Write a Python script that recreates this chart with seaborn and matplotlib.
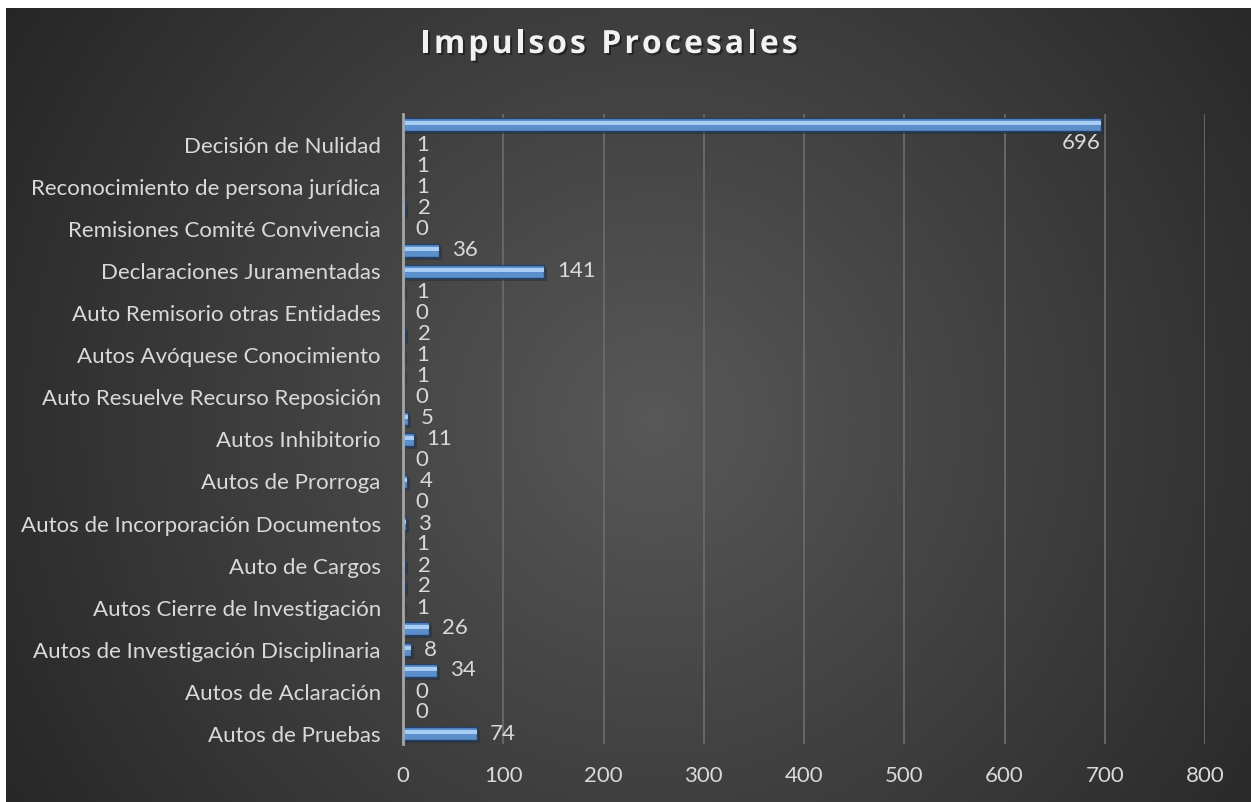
import numpy as np
import pandas as pd
import matplotlib
matplotlib.use("Agg")
import matplotlib.pyplot as plt
import matplotlib.patheffects as pe
import seaborn as sns

# Categories listed top to bottom; the axis labels every other row.
categorias = [
    "Autos de Archivo",
    "Decisión de Nulidad",
    "Autos de Apertura",
    "Reconocimiento de persona jurídica",
    "Autos de Citación",
    "Remisiones Comité Convivencia",
    "Autos de Indagación Previa",
    "Declaraciones Juramentadas",
    "Autos de Acumulación",
    "Auto Remisorio otras Entidades",
    "Autos de Suspensión",
    "Autos Avóquese Conocimiento",
    "Recurso de Apelación",
    "Auto Resuelve Recurso Reposición",
    "Autos de Desglose",
    "Autos Inhibitorio",
    "Autos de Comisión",
    "Autos de Prorroga",
    "Autos de Traslado",
    "Autos de Incorporación Documentos",
    "Autos de Variación de Cargos",
    "Auto de Cargos",
    "Autos de Notificación",
    "Autos Cierre de Investigación",
    "Requerimientos",
    "Autos de Investigación Disciplinaria",
    "Autos de Indagación",
    "Autos de Aclaración",
    "Autos de Fallo",
    "Autos de Pruebas",
]
valores = [696, 1, 1, 1, 2, 0, 36, 141, 1, 0, 2, 1, 1, 0, 5,
           11, 0, 4, 0, 3, 1, 2, 2, 1, 26, 8, 34, 0, 0, 74]
ticks_x = [0, 100, 200, 300, 400, 500, 600, 700, 800]
titulo = "Impulsos Procesales"

df = pd.DataFrame({"categoria": categorias, "valor": valores})

FONT = ["Lato", "DejaVu Sans"]
TXT = "#d9d9d9"
FS = 16

sns.set_theme(style="white")
plt.rcParams["font.family"] = FONT

W, H = 1251, 802
fig = plt.figure(figsize=(W / 100, H / 100), dpi=100, facecolor="white")

# Radial gradient background of the chart area
bg = fig.add_axes([6 / W, 0, 1 - 6 / W, (H - 8) / H])
bg.set_axis_off()
gw, gh = W - 6, H - 8
yy, xx = np.mgrid[0:gh, 0:gw]
cx, cy = gw * 0.52, gh * 0.52
r = np.sqrt((xx - cx) ** 2 + (yy - cy) ** 2)
rmax = np.sqrt(cx ** 2 + cy ** 2)
c0, c1 = 0x58 / 255, 0x26 / 255
g = c0 - (c0 - c1) * np.clip(r / rmax, 0, 1)
img = np.dstack([g, g, g])
bg.imshow(img, aspect="auto", extent=[0, gw, gh, 0], interpolation="bilinear")
bg.set_xlim(0, gw)
bg.set_ylim(gh, 0)

ax = fig.add_axes([403 / W, (H - 744) / H, 802 / W, 630 / H])
ax.patch.set_alpha(0)

sns.barplot(data=df, x="valor", y="categoria", orient="h", ax=ax,
            color="#5b8fcb", edgecolor="#23416a", linewidth=1.0,
            width=0.6, saturation=1)
base_bars = list(ax.patches)
for p in base_bars:
    p.set_path_effects([pe.SimplePatchShadow(offset=(2, -2), alpha=0.45),
                        pe.Normal()])

# light band across each bar for the bevel look
sns.barplot(data=df, x="valor", y="categoria", orient="h", ax=ax,
            color="#a8cdf2", linewidth=0, width=0.18, saturation=1)
for p in ax.patches[len(base_bars):]:
    p.set_y(p.get_y() - 0.06)

ax.set_xlim(0, 800)
ax.set_ylim(len(categorias) - 0.5, -0.5)
ax.set_xticks(ticks_x)
ax.set_xticklabels([str(t) for t in ticks_x], color=TXT, fontsize=FS)
ax.set_yticks(range(len(categorias)))
ax.set_yticklabels([c if i % 2 == 1 else "" for i, c in enumerate(categorias)],
                   color=TXT, fontsize=FS)
ax.tick_params(axis="both", length=0)
ax.tick_params(axis="y", pad=16)
ax.tick_params(axis="x", pad=16)
ax.set_xlabel("")
ax.set_ylabel("")

ax.grid(axis="x", color="#6a6a6a", linewidth=1.3)
ax.set_axisbelow(True)
for s in ["top", "right", "bottom"]:
    ax.spines[s].set_visible(False)
ax.spines["left"].set_color("#a6a6a6")
ax.spines["left"].set_linewidth(2)

# value labels
for i, v in enumerate(valores):
    if v > 600:
        ax.text(v, i + 0.88, str(v), ha="right", va="center",
                color=TXT, fontsize=FS)
    else:
        ax.annotate(str(v), xy=(v, i), xytext=(9, 0),
                    textcoords="offset points", ha="left", va="center",
                    color=TXT, fontsize=FS)

# Title drawn letter by letter with extra tracking
renderer = fig.canvas.get_renderer()
title_kw = dict(color="#f2f2f2", fontsize=23, fontweight="bold",
                family=["Open Sans", "DejaVu Sans"], va="baseline", ha="left",
                path_effects=[pe.withSimplePatchShadow(offset=(1.5, -1.5),
                                                       shadow_rgbFace="black",
                                                       alpha=0.4)])
tracking = 3.0  # px between letters
widths = []
for ch in titulo:
    t = fig.text(0, 0, ch if ch != " " else "n", **title_kw)
    w = t.get_window_extent(renderer).width
    if ch == " ":
        w *= 0.45
    widths.append(w)
    t.remove()
total = sum(widths) + tracking * (len(titulo) - 1)
x = 609 - total / 2
for ch, w in zip(titulo, widths):
    if ch != " ":
        fig.text(x / W, 1 - 53 / H, ch, **title_kw)
    x += w + tracking

fig.savefig("out.png", dpi=100, facecolor="white")
